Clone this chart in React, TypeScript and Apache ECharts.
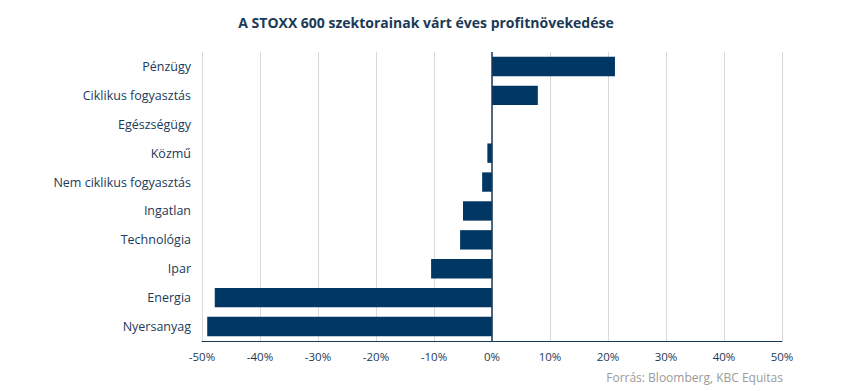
import React, { useEffect, useRef } from "react";
import * as echarts from "echarts";

const categories = [
  "Pénzügy",
  "Ciklikus fogyasztás",
  "Egészségügy",
  "Közmű",
  "Nem ciklikus fogyasztás",
  "Ingatlan",
  "Technológia",
  "Ipar",
  "Energia",
  "Nyersanyag",
];
const values = [21.2, 7.9, 0, -0.8, -1.7, -5.0, -5.5, -10.5, -47.8, -49.1];
const xMin = -50;
const xMax = 50;
const xStep = 10;
const titleText = "A STOXX 600 szektorainak várt éves profitnövekedése";
const sourceText = "Forrás: Bloomberg, KBC Equitas";

const font = "'Open Sans', 'DejaVu Sans', sans-serif";

export default function App() {
  const ref = useRef<HTMLDivElement>(null);
  useEffect(() => {
    if (!ref.current) return;
    const chart = echarts.init(ref.current, undefined, { renderer: "svg" });
    chart.setOption({
      animation: false,
      backgroundColor: "#ffffff",
      title: {
        text: titleText,
        left: 421,
        textAlign: "center",
        top: 10,
        textStyle: { fontFamily: font, fontSize: 14, fontWeight: "bold", color: "#1b3a57" },
      },
      graphic: [
        {
          type: "text",
          right: 67,
          top: 371,
          style: { text: sourceText, fontFamily: font, fontSize: 12, fill: "#9a9a9a" },
        },
      ],
      grid: { left: 202, right: 68, top: 52, bottom: 50, containLabel: false },
      xAxis: {
        type: "value",
        min: xMin,
        max: xMax,
        interval: xStep,
        axisLine: { show: true, lineStyle: { color: "#1b3a57", width: 1 } },
        axisTick: { show: false },
        axisLabel: {
          formatter: "{value}%",
          fontFamily: font,
          fontSize: 11.5,
          color: "#1b3a57",
          margin: 9,
        },
        splitLine: { show: true, lineStyle: { color: "#d9d9d9", width: 1 } },
      },
      yAxis: {
        type: "category",
        data: categories,
        inverse: true,
        axisLine: { show: false },
        axisTick: { show: false },
        axisLabel: { fontFamily: font, fontSize: 12.5, color: "#1b3a57", margin: 11 },
        splitLine: { show: false },
      },
      series: [
        {
          type: "bar",
          data: values,
          barCategoryGap: "33%",
          itemStyle: { color: "#003764" },
          markLine: {
            silent: true,
            symbol: "none",
            label: { show: false },
            lineStyle: { color: "#1b3a57", width: 1.5, type: "solid" },
            data: [{ xAxis: 0 }],
          },
        },
      ],
    });
    return () => chart.dispose();
  }, []);
  return (
    <div
      ref={ref}
      style={{ position: "absolute", left: 0, top: 0, width: 850, height: 391 }}
    />
  );
}
